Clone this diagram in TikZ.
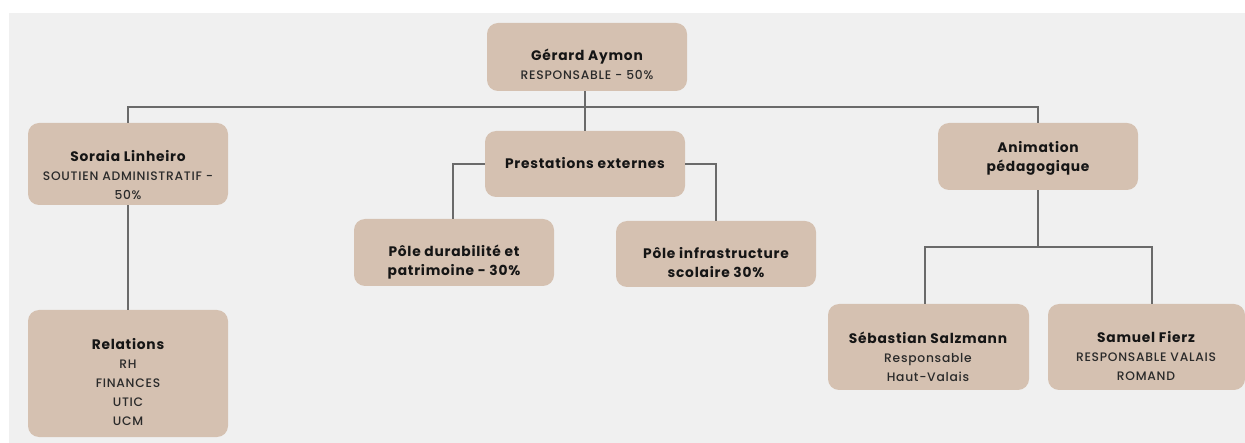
\documentclass[tikz,border=0pt]{standalone}
\usepackage{fontspec}
\setmainfont{Poppins}
\newfontfamily\namefont[LetterSpace=5.5]{Poppins Bold}
\newfontfamily\subfont[LetterSpace=6]{Poppins Medium}
\definecolor{bgc}{HTML}{F0F0F0}
\definecolor{boxc}{HTML}{D5C1B1}
\definecolor{linec}{HTML}{6A6A6A}
\definecolor{namec}{HTML}{151515}
\definecolor{subc}{HTML}{2A2A2A}
\newcommand{\nm}[1]{{\fontsize{13.8}{19}\namefont\color{namec}#1}}
\newcommand{\sbt}[1]{{\fontsize{12.3}{19}\subfont\color{subc}#1}}
\begin{document}
\begin{tikzpicture}[x=1pt,y=-1pt,
  box/.style={fill=boxc, rounded corners=11pt, inner sep=0pt, minimum width=200pt},
  txt/.style={align=center, inner sep=0pt, font=\fontsize{12}{19}\selectfont},
  conn/.style={draw=linec, line width=1.4pt}]
\useasboundingbox (0,0) rectangle (1245,443);
\fill[bgc] (9,13) rectangle (1245,443);
% boxes
\node[box, minimum height=68pt] (g) at (587,57) {};
\node[box, minimum height=66pt] (pe) at (585,164) {};
\node[box, minimum height=82pt] (so) at (128,164) {};
\node[box, minimum height=67pt] (an) at (1038,156.5) {};
\node[box, minimum height=127pt] (re) at (128,373.5) {};
\node[box, minimum height=67pt] (pd) at (454,252.5) {};
\node[box, minimum height=66pt] (pi) at (716,254) {};
\node[box, minimum height=86pt, minimum width=201pt] (se) at (928.5,347) {};
\node[box, minimum height=86pt, minimum width=197pt] (sa) at (1146.5,347) {};
% texts
\node[txt] (tg) at (587,64) {\nm{Gérard Aymon}\\\sbt{RESPONSABLE - 50\%}};
\node[txt] (tpe) at (585,163) {\nm{Prestations externes}};
\node[txt] (tso) at (128,175) {\nm{Soraia Linheiro}\\\sbt{SOUTIEN ADMINISTRATIF -}\\\sbt{50\%}};
\node[txt] (tan) at (1038,158) {\nm{Animation}\\\nm{pédagogique}};
\node[txt] (tre) at (128,382) {\nm{Relations}\\\sbt{RH}\\\sbt{FINANCES}\\\sbt{UTIC}\\\sbt{UCM}};
\node[txt] (tpd) at (454,262) {\nm{Pôle durabilité et}\\\nm{patrimoine - 30\%}};
\node[txt] (tpi) at (716,263) {\nm{Pôle infrastructure}\\\nm{scolaire 30\%}};
\node[txt] (tse) at (928,357) {\nm{Sébastian Salzmann}\\\sbt{Responsable}\\\sbt{Haut-Valais}};
\node[txt] (tsa) at (1146,356) {\nm{Samuel Fierz}\\\sbt{RESPONSABLE VALAIS}\\\sbt{ROMAND}};
% connectors
\coordinate (bar) at (585,107);
\coordinate (bar2) at (1038,247);
\draw[conn] ([xshift=-2pt]g.south) -- (pe.north);
\draw[conn] (so.north) |- (bar) -| (an.north);
\draw[conn] (pe.west) -| ([xshift=-1pt]pd.north);
\draw[conn] (pe.east) -| (pi.north);
\draw[conn] (so.south) -- (re.north);
\draw[conn] (an.south) -- (bar2);
\draw[conn] ([xshift=-3.5pt]se.north) |- (bar2) -| ([xshift=5.5pt]sa.north);
\end{tikzpicture}
\end{document}
